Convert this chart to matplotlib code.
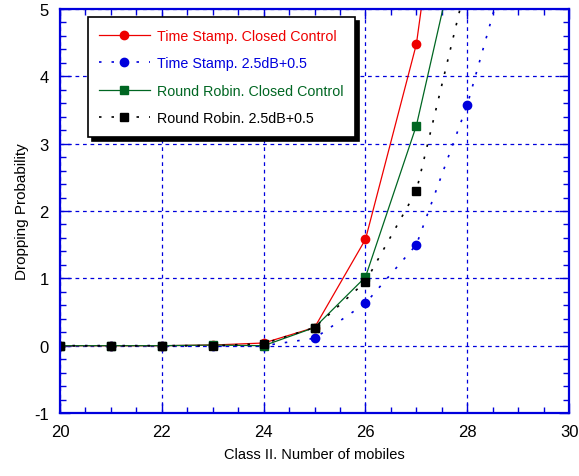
import numpy as np
import matplotlib.pyplot as plt
from matplotlib.ticker import MultipleLocator

plt.rcParams['font.family'] = ['Liberation Sans', 'DejaVu Sans']
plt.rcParams['axes.unicode_minus'] = False

# Data
x = [20, 21, 22, 23, 24, 25, 26, 27, 28]
ts_closed = [0, 0, 0, 0.01, 0.04, 0.27, 1.58, 4.48, 10.0]
rr_closed = [0, 0, 0, 0.01, 0.0, 0.27, 1.02, 3.27, 6.6]
rr_25db = [0, 0, 0, 0.0, 0.03, 0.27, 0.95, 2.30, 5.45]
x_ts25 = [20, 21, 22, 23, 24, 25, 26, 27, 28, 29]
ts_25db = [0, 0, 0, 0, 0, 0.11, 0.63, 1.50, 3.58, 6.25]

fig = plt.figure(figsize=(5.79, 4.77), dpi=100)
ax = fig.add_axes([0.1036, 0.132, 0.8794, 0.847])

ax.plot(x, ts_closed, color='#ee0000', lw=0.9, marker='o', ms=6,
        label='Time Stamp. Closed Control')
ax.plot(x_ts25, ts_25db, color='#0000dd', lw=1.2, ls=(0, (1.5, 6)), marker='o', ms=6,
        label='Time Stamp. 2.5dB+0.5')
ax.plot(x, rr_closed, color='#006622', lw=0.9, marker='s', ms=6,
        label='Round Robin. Closed Control')
ax.plot(x, rr_25db, color='black', lw=1.2, ls=(0, (1.5, 6)), marker='s', ms=6,
        label='Round Robin. 2.5dB+0.5')

ax.set_xlim(20, 30)
ax.set_ylim(-1, 5)
ax.xaxis.set_major_locator(MultipleLocator(2))
ax.xaxis.set_minor_locator(MultipleLocator(0.5))
ax.yaxis.set_major_locator(MultipleLocator(1))
ax.yaxis.set_minor_locator(MultipleLocator(0.2))
ax.tick_params(which='both', direction='in', top=True, right=True, color='#0000dd',
               labelsize=12, pad=8)
ax.tick_params(which='major', length=7, width=1)
ax.tick_params(which='minor', length=4, width=1)
ax.grid(True, which='major', color='#0000dd', ls=(0, (3, 3)), lw=0.9)
for s in ax.spines.values():
    s.set_color('#0000dd')
    s.set_linewidth(1.6)

ax.set_xlabel('Class II. Number of mobiles', fontsize=10.5, labelpad=6)
ax.set_ylabel('Dropping Probability', fontsize=11, labelpad=4)

leg = ax.legend(loc='upper left', bbox_to_anchor=(0.055, 0.98), borderaxespad=0,
                fontsize=10.3, frameon=True, fancybox=False,
                shadow={'color': 'black', 'alpha': 1, 'ox': 3, 'oy': -3},
                edgecolor='black', framealpha=1, borderpad=0.8, labelspacing=0.95,
                handlelength=3.5, handletextpad=0.5)
leg.get_frame().set_linewidth(1.2)
for t, c in zip(leg.get_texts(), ['#ee0000', '#0000dd', '#006622', 'black']):
    t.set_color(c)

fig.savefig('out.png', dpi=100)
